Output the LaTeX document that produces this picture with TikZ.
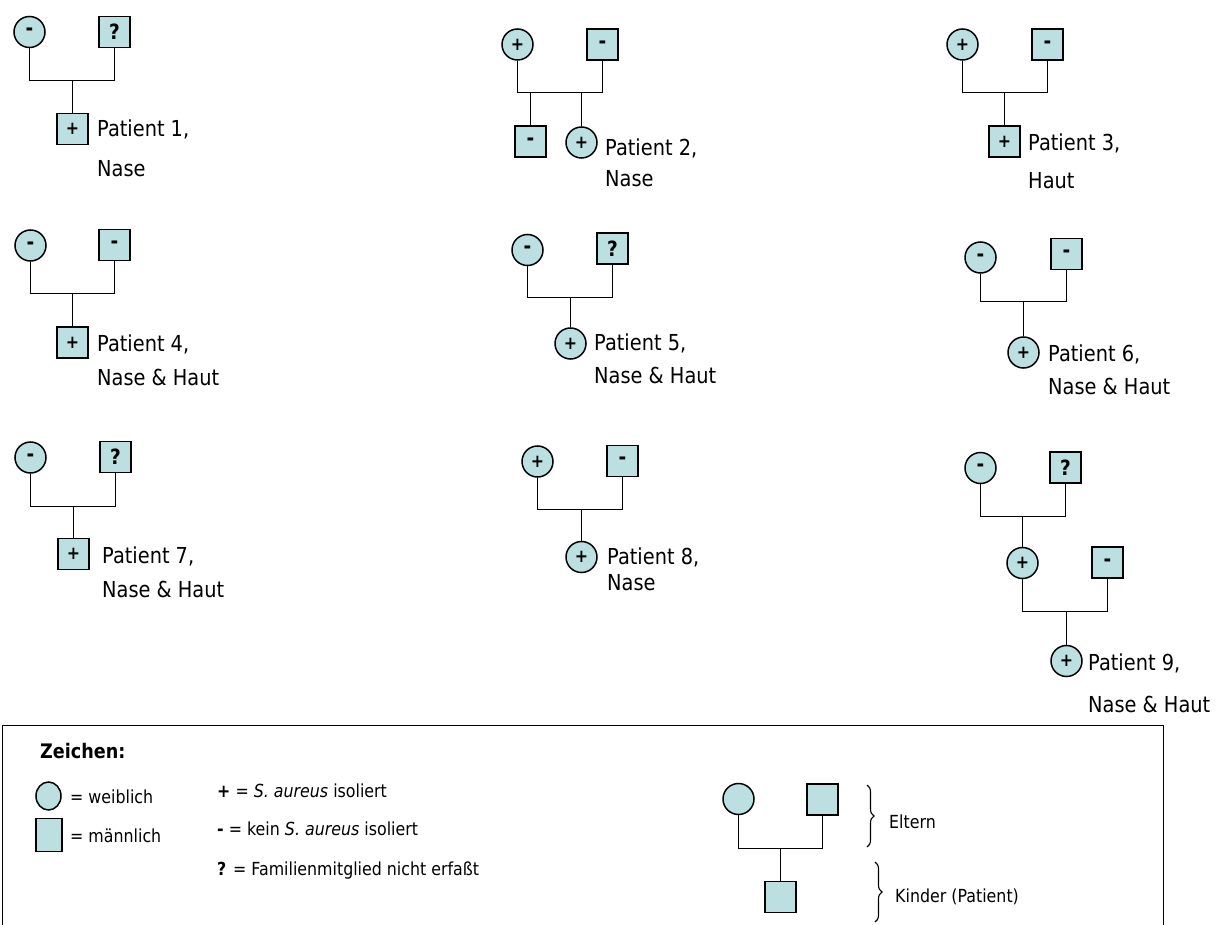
\documentclass[tikz,border=0pt]{standalone}
\usepackage{fontspec}
\setmainfont{DejaVu Sans}[FakeStretch=0.88]
\usetikzlibrary{decorations.pathreplacing, shapes.geometric}
\definecolor{pfill}{RGB}{188,224,226}
\newcommand\labfont{\fontsize{22}{26}\selectfont}
\newcommand\legfont{\fontsize{18}{22}\selectfont}
\newcommand\symfont{\fontsize{21}{24}\selectfont\bfseries}
\newcommand\pls{{\fontsize{18}{20}\selectfont\bfseries +}}
\tikzset{
  person/.style={draw, line width=1.5pt, fill=pfill, inner sep=0pt, font=\symfont},
  fem/.style={person, circle, minimum size=31pt},
  mal/.style={person, rectangle, minimum size=31pt},
  lbl/.style={anchor=base west, inner sep=0pt, font=\labfont},
  leg/.style={anchor=base west, inner sep=0pt, font=\legfont},
  link/.style={line width=1.8pt},
  bracestyle/.style={line width=1.1pt, decorate, decoration={brace, amplitude=7pt}},
}
\begin{document}
\begin{tikzpicture}[x=1pt,y=-1pt]
\useasboundingbox (0,0) rectangle (1227,925);

% Pedigree 1
\node[fem] (m1) at (29.5,32) {-};
\node[mal] (f1) at (114.5,32) {?};
\coordinate (b1) at (72.5,80.5);
\node[mal] (c1) at (72.5,129) {\pls};
\draw[link] (m1.south) |- (b1) -| (f1.south);
\draw[link] (b1) -- (c1.north);
\node[lbl] (t1a) at (97,137) {Patient 1,};
\node[lbl] (t1b) at (97,177) {Nase};

% Pedigree 2
\node[fem] (m2) at (517.5,44.5) {\pls};
\node[mal] (f2) at (602.5,44.5) {-};
\coordinate (b2) at (560,92.5);
\node[mal] (c2a) at (530.5,141.5) {-};
\node[fem] (c2b) at (581.5,142.5) {\pls};
\draw[link] (m2.south) |- (b2) -| (f2.south);
\draw[link] (c2a.north) -- (c2a.north |- b2);
\draw[link] (c2b.north) -- (c2b.north |- b2);
\node[lbl] (t2a) at (605,156) {Patient 2,};
\node[lbl] (t2b) at (605,187) {Nase};

% Pedigree 3
\node[fem] (m3) at (962.5,44.5) {\pls};
\node[mal] (f3) at (1047.5,44.5) {-};
\coordinate (b3) at (1004.5,92.5);
\node[mal] (c3) at (1004.5,141.5) {\pls};
\draw[link] (m3.south) |- (b3) -| (f3.south);
\draw[link] (b3) -- (c3.north);
\node[lbl] (t3a) at (1028,151) {Patient 3,};
\node[lbl] (t3b) at (1028,189) {Haut};

% Pedigree 4
\node[fem] (m4) at (30.5,245.5) {-};
\node[mal] (f4) at (114.5,245) {-};
\coordinate (b4) at (72.5,293.5);
\node[mal] (c4) at (72.5,342.5) {\pls};
\draw[link] (m4.south) |- (b4) -| (f4.south);
\draw[link] (b4) -- (c4.north);
\node[lbl] (t4a) at (97,352) {Patient 4,};
\node[lbl] (t4b) at (97,385) {Nase \& Haut};

% Pedigree 5
\node[fem] (m5) at (527.5,250) {-};
\node[mal] (f5) at (612.5,248.5) {?};
\coordinate (b5) at (570.5,297.5);
\node[fem] (c5) at (570.5,343.5) {\pls};
\draw[link] (m5.south) |- (b5) -| (f5.south);
\draw[link] (b5) -- (c5.north);
\node[lbl] (t5a) at (594,351) {Patient 5,};
\node[lbl] (t5b) at (594,384) {Nase \& Haut};

% Pedigree 6
\node[fem] (m6) at (980.5,257.5) {-};
\node[mal] (f6) at (1066.5,254) {-};
\coordinate (b6) at (1023.5,301.5);
\node[fem] (c6) at (1023.5,352.5) {\pls};
\draw[link] (m6.south) |- (b6) -| (f6.south);
\draw[link] (b6) -- (c6.north);
\node[lbl] (t6a) at (1048,362) {Patient 6,};
\node[lbl] (t6b) at (1048,395) {Nase \& Haut};

% Pedigree 7
\node[fem] (m7) at (30.5,457.5) {-};
\node[mal] (f7) at (115.5,457) {?};
\coordinate (b7) at (73.5,506.5);
\node[mal] (c7) at (73.5,554) {\pls};
\draw[link] (m7.south) |- (b7) -| (f7.south);
\draw[link] (b7) -- (c7.north);
\node[lbl] (t7a) at (102,563) {Patient 7,};
\node[lbl] (t7b) at (102,597) {Nase \& Haut};

% Pedigree 8
\node[fem] (m8) at (537.5,461.5) {\pls};
\node[mal] (f8) at (622.5,461) {-};
\coordinate (b8) at (581.5,509.5);
\node[fem] (c8) at (581.5,557) {\pls};
\draw[link] (m8.south) |- (b8) -| (f8.south);
\draw[link] (b8) -- (c8.north);
\node[lbl] (t8a) at (607,564) {Patient 8,};
\node[lbl] (t8b) at (607,590) {Nase};

% Pedigree 9
\node[fem] (m9) at (980.5,468) {-};
\node[mal] (f9) at (1065.5,467.5) {?};
\coordinate (b9) at (1022.5,516.5);
\node[fem] (c9a) at (1022.5,563) {\pls};
\node[mal] (f9b) at (1107.5,562.5) {-};
\coordinate (b9b) at (1066.5,611.5);
\node[fem] (c9) at (1066.5,661) {\pls};
\draw[link] (m9.south) |- (b9) -| (f9.south);
\draw[link] (b9) -- (c9a.north);
\draw[link] (c9a.south) |- (b9b) -| (f9b.south);
\draw[link] (b9b) -- (c9.north);
\node[lbl] (t9a) at (1088,670) {Patient 9,};
\node[lbl] (t9b) at (1088,712) {Nase \& Haut};

% Legend
\draw[line width=1.5pt] (2.5,725.5) rectangle (1163.5,935);
\node[anchor=base west, inner sep=0pt, font=\fontsize{20}{24}\selectfont\bfseries] (zt) at (40,758) {Zeichen:};
\node[person, ellipse, minimum width=25pt, minimum height=28pt] (le1) at (48.5,796) {};
\node[person, rectangle, minimum width=26pt, minimum height=33pt] (le2) at (49,835) {};
\node[leg] (lw) at (70,803) {= weiblich};
\node[leg] (lmn) at (70,842) {= männlich};
\node[leg] (lp) at (217,797) {\textbf{+} = \textit{S. aureus} isoliert};
\node[leg] (lmi) at (217,835) {\textbf{-} = kein \textit{S. aureus} isoliert};
\node[leg] (lq) at (217,875) {\textbf{?} = Familienmitglied nicht erfaßt};

\node[fem] (lm) at (738.5,799) {};
\node[mal] (lf) at (822.5,799.5) {};
\coordinate (lb) at (780.5,848.5);
\node[mal] (lc) at (780.5,897) {};
\draw[link] (lm.south) |- (lb) -| (lf.south);
\draw[link] (lb) -- (lc.north);
\draw[bracestyle] (867,785) -- (867,847);
\draw[bracestyle] (875,862) -- (875,922);
\node[leg] (le) at (889,828) {Eltern};
\node[leg] (lk) at (895,902) {Kinder (Patient)};
\end{tikzpicture}
\end{document}
